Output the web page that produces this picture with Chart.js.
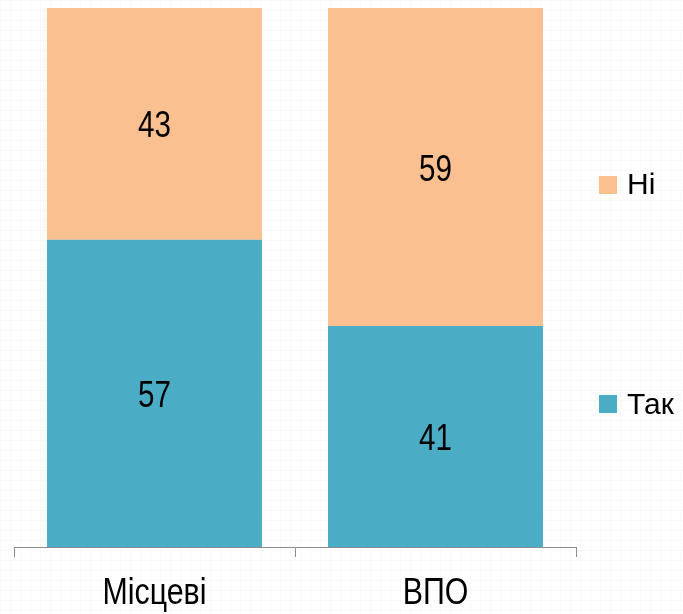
<!DOCTYPE html>
<html>
<head>
<meta charset="utf-8">
<script src="https://cdn.jsdelivr.net/npm/chart.js@4"></script>
<style>
  html, body { margin: 0; padding: 0; }
  body {
    width: 683px; height: 614px; overflow: hidden;
    background-color: #fff;
    background-image:
      linear-gradient(rgba(0,0,0,0.018) 1px, transparent 1px),
      linear-gradient(90deg, rgba(0,0,0,0.018) 1px, transparent 1px);
    background-size: 10px 10px;
  }
  canvas { display: block; }
</style>
</head>
<body>
<canvas id="chart" width="683" height="614"></canvas>
<script>
// Data
const categories = ["Місцеві", "ВПО"];
const seriesNames = ["Так", "Ні"];
const takValues = [57, 41];
const niValues = [43, 59];

const colors = ["#4BACC6", "#FAC090"];
const FONT = '"Liberation Sans", Arial, sans-serif';

// Narrow text: no condensed font is installed, so squeeze a normal one
function narrowText(ctx, text, x, y, sx) {
  ctx.save();
  ctx.translate(x, y);
  ctx.scale(sx, 1);
  ctx.fillText(text, 0, 0);
  ctx.restore();
}

// Values in the middle of each segment + category names under the axis
const textLayer = {
  id: "textLayer",
  afterDatasetsDraw(chart) {
    const ctx = chart.ctx;
    ctx.save();
    ctx.fillStyle = "#000";
    ctx.textAlign = "center";
    ctx.textBaseline = "alphabetic";
    ctx.font = "37px " + FONT;
    chart.data.datasets.forEach((ds, i) => {
      chart.getDatasetMeta(i).data.forEach((bar, j) => {
        const mid = (bar.y + bar.base) / 2;
        narrowText(ctx, String(ds.data[j]), bar.x, mid + 13.5, 0.8);
      });
    });
    const xs = chart.scales.x;
    chart.data.labels.forEach((lab, j) => {
      narrowText(ctx, lab, xs.getPixelForTick(j), xs.bottom + 47, 0.82);
    });
    ctx.restore();
  }
};

// Legend on the right, "Ні" above "Так"
const sideLegend = {
  id: "sideLegend",
  afterDraw(chart) {
    const ctx = chart.ctx;
    const rows = [{ ds: 1, top: 176, base: 194 }, { ds: 0, top: 395, base: 414 }];
    ctx.save();
    ctx.font = "30px " + FONT;
    ctx.textBaseline = "alphabetic";
    ctx.textAlign = "left";
    rows.forEach(r => {
      const ds = chart.data.datasets[r.ds];
      ctx.fillStyle = ds.backgroundColor;
      ctx.fillRect(599, r.top, 18, 18);
      ctx.fillStyle = "#000";
      narrowText(ctx, ds.label, 627, r.base, 1.0);
    });
    ctx.restore();
  }
};

new Chart(document.getElementById("chart"), {
  type: "bar",
  data: {
    labels: categories,
    datasets: [
      { label: seriesNames[0], data: takValues, backgroundColor: colors[0] },
      { label: seriesNames[1], data: niValues, backgroundColor: colors[1] }
    ]
  },
  options: {
    responsive: false,
    animation: false,
    devicePixelRatio: 1,
    layout: { padding: { left: 14, right: 107, top: 8, bottom: 57 } },
    datasets: { bar: { categoryPercentage: 1, barPercentage: 0.765 } },
    plugins: { legend: { display: false }, tooltip: { enabled: false } },
    scales: {
      x: {
        stacked: true,
        grid: { display: true, drawOnChartArea: false, offset: true, tickLength: 10, color: "#8c8c8c", lineWidth: 1 },
        border: { display: true, color: "#8c8c8c", width: 1 },
        ticks: { display: false }
      },
      y: { stacked: true, display: false, min: 0, max: 100 }
    }
  },
  plugins: [textLayer, sideLegend]
});
</script>
</body>
</html>
